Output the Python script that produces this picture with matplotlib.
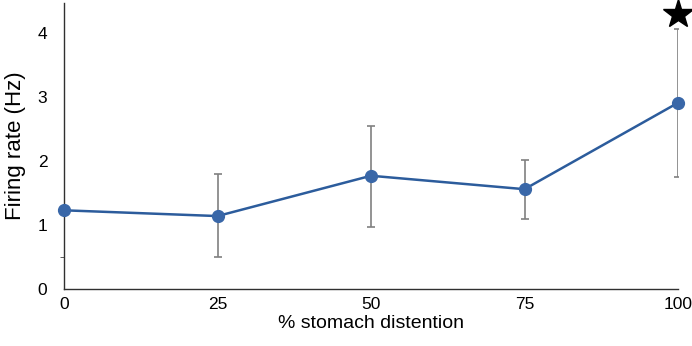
import numpy as np
import matplotlib
matplotlib.use("Agg")
import matplotlib.pyplot as plt

plt.rcParams['font.family'] = ['Liberation Sans', 'DejaVu Sans']

# 数据
distention = [0, 25, 50, 75, 100]
rate = [1.23, 1.14, 1.77, 1.56, 2.91]
err_low = [1.23, 0.50, 0.97, 1.09, 1.75]
err_high = [1.23, 1.79, 2.55, 2.02, 4.06]
star_x, star_y = 100, 4.3
yticks = [0, 1, 2, 3, 4]
xticks = [0, 25, 50, 75, 100]

rate = np.array(rate)
yerr = [rate - np.array(err_low), np.array(err_high) - rate]

fig = plt.figure(figsize=(6.92, 3.46), dpi=100)
ax = fig.add_axes([64 / 692, (346 - 289) / 346, (678 - 64) / 692, (289 - 3) / 346])

ax.errorbar(distention, rate, yerr=yerr, fmt='none', ecolor='#808080',
            elinewidth=1.2, capsize=3, capthick=1.2, zorder=2)
ax.plot(distention, rate, color='#2c5c9c', lw=1.8, marker='o', ms=8.5,
        mfc='#3967a8', mec='#3967a8', zorder=3, clip_on=False)
ax.plot(star_x, star_y, marker='*', ms=22, color='black', clip_on=False)

ax.set_xlim(0, 100)
ax.set_ylim(0, 4.47)
ax.set_xticks(xticks)
ax.set_yticks(yticks)
ax.set_yticks([0.5, 2], minor=True)
ax.tick_params(axis='x', length=0, pad=6, labelsize=12.5)
ax.tick_params(axis='y', which='major', length=0, pad=12, labelsize=12.5)
ax.tick_params(axis='y', which='minor', length=3, color='#404040')

for s in ['top', 'right']:
    ax.spines[s].set_visible(False)
for s in ['left', 'bottom']:
    ax.spines[s].set_color('#303030')
    ax.spines[s].set_linewidth(1.0)

ax.set_xlabel('% stomach distention', fontsize=14, labelpad=2)
ax.set_ylabel('Firing rate (Hz)', fontsize=16, labelpad=8)

fig.savefig('out.png', dpi=100)
